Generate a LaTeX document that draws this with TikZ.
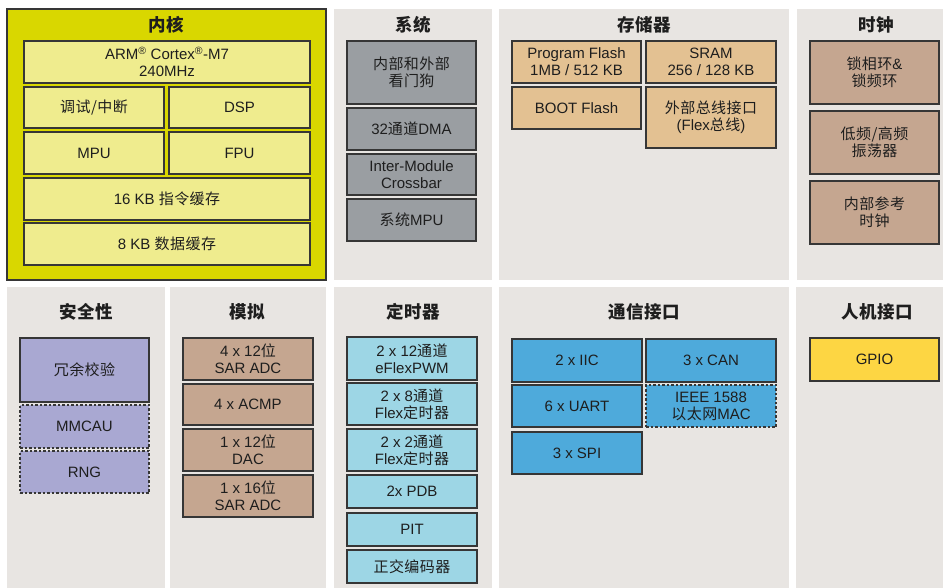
\documentclass[tikz,border=0pt]{standalone}
\usepackage{fontspec}
\setmainfont{Liberation Sans}
\newfontfamily\cjk{Noto Sans CJK SC}[LetterSpace=3]
\newcommand\zh[1]{{\cjk #1}}
\definecolor{panelbg}{HTML}{E8E5E2}
\definecolor{coreY}{HTML}{D9D700}
\definecolor{coreIn}{HTML}{EFEC8E}
\definecolor{sysG}{HTML}{9A9EA2}
\definecolor{memT}{HTML}{E3C192}
\definecolor{clkB}{HTML}{C5A690}
\definecolor{secP}{HTML}{A9A8D2}
\definecolor{timC}{HTML}{9DD6E5}
\definecolor{comB}{HTML}{4EAADB}
\definecolor{gpioY}{HTML}{FDD643}
\definecolor{edge}{HTML}{363636}
\definecolor{ink}{HTML}{1E1E1E}
\tikzset{
  panel/.style={fill=panelbg, draw=none},
  box/.style={draw=edge, line width=1.4pt, text=ink, align=center, inner sep=0pt,
    font=\fontsize{15}{17}\selectfont},
  dashbox/.style={box, dash pattern=on 2.5pt off 2pt},
  ttl/.style={text=ink, font=\fontsize{17.5}{19}\selectfont\cjk\bfseries, inner sep=0pt}
}
\newcommand\blk[7]{\node[#6, minimum width={(#4-#2)*1pt}, minimum height={(#5-#3)*1pt}] (#1) at ({(#2+#4)/2},{(#3+#5)/2}) {#7};}
\begin{document}
\begin{tikzpicture}[x=1pt,y=-1pt]
\useasboundingbox (0,0) rectangle (943,588);
\fill[white] (0,0) rectangle (943,588);
% panels
\draw[fill=coreY, draw=edge, line width=1.4pt] (7,9) rectangle (326,280);
\fill[panelbg] (334,9) rectangle (492,280);
\fill[panelbg] (499,9) rectangle (789,280);
\fill[panelbg] (797,9) rectangle (943,280);
\fill[panelbg] (7,287) rectangle (165,588);
\fill[panelbg] (170,287) rectangle (326,588);
\fill[panelbg] (334,287) rectangle (492,588);
\fill[panelbg] (499,287) rectangle (789,588);
\fill[panelbg] (796,287) rectangle (943,588);
% titles
\node[ttl] (t1) at (166,25) {内核};
\node[ttl] (t2) at (413,25) {系统};
\node[ttl] (t3) at (644,25) {存储器};
\node[ttl] (t4) at (876,25) {时钟};
\node[ttl] (t5) at (86,312) {安全性};
\node[ttl] (t6) at (247,312) {模拟};
\node[ttl] (t7) at (413,312) {定时器};
\node[ttl] (t8) at (644,312) {通信接口};
\node[ttl] (t9) at (877,312) {人机接口};
% core
\blk{arm}{24}{41}{310}{83}{box,fill=coreIn}{ARM\textsuperscript{®} Cortex\textsuperscript{®}-M7\\240MHz}
\blk{dbg}{24}{87}{164}{128}{box,fill=coreIn}{\zh{调试/中断}}
\blk{dsp}{169}{87}{310}{128}{box,fill=coreIn}{DSP}
\blk{mpu}{24}{132}{164}{174}{box,fill=coreIn}{MPU}
\blk{fpu}{169}{132}{310}{174}{box,fill=coreIn}{FPU}
\blk{icache}{24}{178}{310}{220}{box,fill=coreIn}{16 KB \zh{指令缓存}}
\blk{dcache}{24}{223}{310}{265}{box,fill=coreIn}{8 KB \zh{数据缓存}}
% system
\blk{wdog}{347}{41}{476}{104}{box,fill=sysG}{\zh{内部和外部}\\\zh{看门狗}}
\blk{dma}{347}{108}{476}{150}{box,fill=sysG}{32\zh{通道}DMA}
\blk{xbar}{347}{154}{476}{195}{box,fill=sysG}{Inter-Module\\Crossbar}
\blk{smpu}{347}{199}{476}{241}{box,fill=sysG}{\zh{系统}MPU}
% memory
\blk{pflash}{512}{41}{641}{83}{box,fill=memT}{Program Flash\\1MB / 512 KB}
\blk{sram}{646}{41}{776}{83}{box,fill=memT}{SRAM\\256 / 128 KB}
\blk{boot}{512}{87}{641}{129}{box,fill=memT}{BOOT Flash}
\blk{flexbus}{646}{87}{776}{148}{box,fill=memT}{\zh{外部总线接口}\\(Flex\zh{总线})}
% clock
\blk{pll}{810}{41}{939}{104}{box,fill=clkB}{\zh{锁相环}\&\\\zh{锁频环}}
\blk{osc}{810}{111}{939}{174}{box,fill=clkB}{\zh{低频/高频}\\\zh{振荡器}}
\blk{irc}{810}{181}{939}{244}{box,fill=clkB}{\zh{内部参考}\\\zh{时钟}}
% safety
\blk{crc}{20}{338}{149}{402}{box,fill=secP}{\zh{冗余校验}}
\blk{mmcau}{20}{405}{149}{448}{dashbox,fill=secP}{MMCAU}
\blk{rng}{20}{451}{149}{493}{dashbox,fill=secP}{RNG}
% analog
\blk{adc1}{183}{338}{313}{380}{box,fill=clkB}{4 x 12\zh{位}\\SAR ADC}
\blk{acmp}{183}{384}{313}{425}{box,fill=clkB}{4 x ACMP}
\blk{dac}{183}{429}{313}{471}{box,fill=clkB}{1 x 12\zh{位}\\DAC}
\blk{adc2}{183}{475}{313}{517}{box,fill=clkB}{1 x 16\zh{位}\\SAR ADC}
% timers
\blk{pwm}{347}{337}{477}{380}{box,fill=timC}{2 x 12\zh{通道}\\eFlexPWM}
\blk{ftm1}{347}{383}{477}{425}{box,fill=timC}{2 x 8\zh{通道}\\Flex\zh{定时器}}
\blk{ftm2}{347}{429}{477}{471}{box,fill=timC}{2 x 2\zh{通道}\\Flex\zh{定时器}}
\blk{pdb}{347}{475}{477}{508}{box,fill=timC}{2x PDB}
\blk{pit}{347}{513}{477}{546}{box,fill=timC}{PIT}
\blk{qdec}{347}{550}{477}{583}{box,fill=timC}{\zh{正交编码器}}
% comm
\blk{iic}{512}{339}{642}{382}{box,fill=comB}{2 x IIC}
\blk{can}{646}{339}{776}{382}{box,fill=comB}{3 x CAN}
\blk{uart}{512}{385}{642}{427}{box,fill=comB}{6 x UART}
\blk{enet}{646}{385}{776}{427}{dashbox,fill=comB}{IEEE 1588\\\zh{以太网}MAC}
\blk{spi}{512}{432}{642}{474}{box,fill=comB}{3 x SPI}
% hmi
\blk{gpio}{810}{338}{939}{381}{box,fill=gpioY}{GPIO}
\end{tikzpicture}
\end{document}
